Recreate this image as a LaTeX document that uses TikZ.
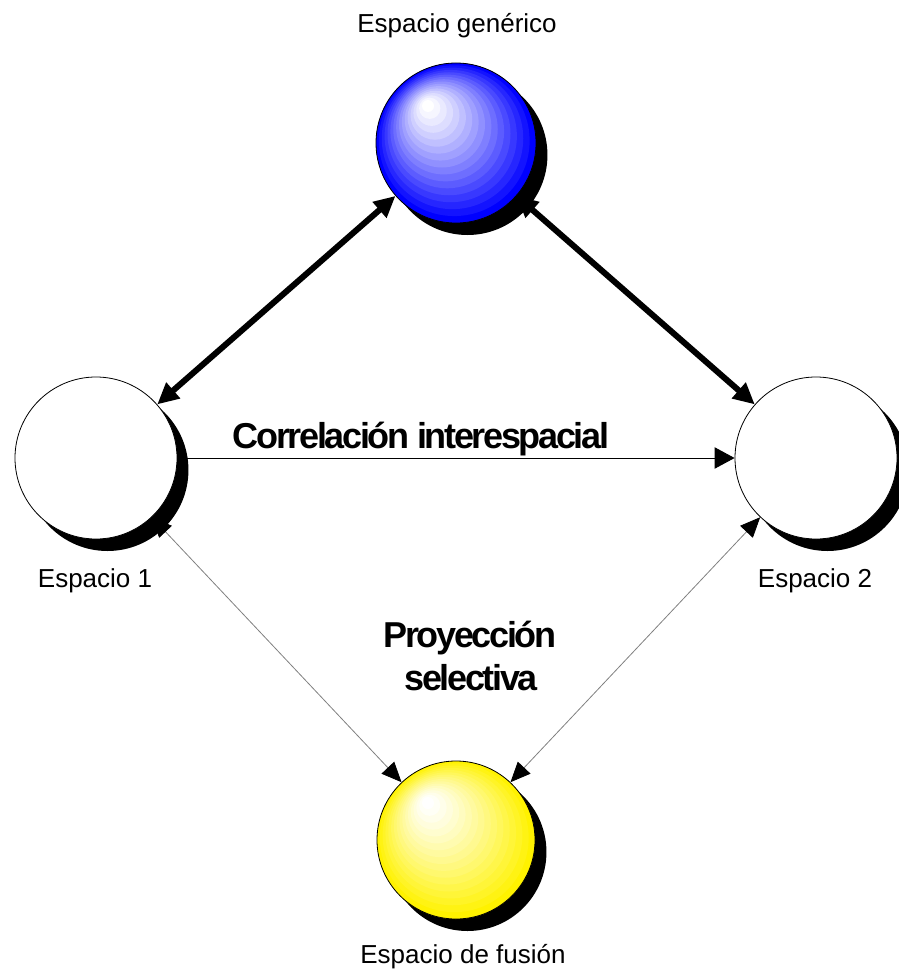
\documentclass[tikz,border=0pt]{standalone}
\usepackage{fontspec}
\setmainfont{Liberation Sans}
\newfontfamily\tightbold{Liberation Sans Bold}[LetterSpace=-6.5]
\usetikzlibrary{arrows.meta,shadows}

% connectors sit below the spheres and their shadows
\pgfdeclarelayer{links}
\pgfsetlayers{links,main}

\begin{document}
\begin{tikzpicture}[x=0.75pt,y=-0.75pt,
  sphere/.style={circle, draw=black, line width=0.6pt, inner sep=0pt,
    minimum size=120pt,
    drop shadow={shadow xshift=8.6pt, shadow yshift=-9pt, fill=black,
      draw=none, opacity=1}},
  % banded radial fill: colour, radius in px; highlight up and to the left
  ringfill/.style 2 args={fill=#1, path picture={
    \foreach \k in {0,...,16}{
      \pgfmathsetmacro\tk{\k/16}
      \pgfmathsetmacro\pc{100*(1-\tk)^1.2}
      \fill[#1!\pc!white, shift={(path picture bounding box.center)}]
        (-28*\tk,-37*\tk) circle[radius={#2-(#2-6)*\tk}];
    }}},
  lbl/.style={font=\fontsize{19.5}{22}\selectfont, inner sep=0pt, anchor=base},
  boldlbl/.style={font=\tightbold\fontsize{27}{30}\selectfont, inner sep=0pt,
    anchor=base},
  thicklink/.style={line width=4.5pt,
    {Triangle[length=16pt,width=15pt]}-{Triangle[length=16pt,width=15pt]}},
  thinlink/.style={line width=0.7pt, -{Triangle[length=15pt,width=16pt]}},
  graylink/.style={draw=gray, line width=0.6pt,
    {Triangle[length=15pt,width=13pt,color=black]}-{Triangle[length=15pt,width=13pt,color=black]}}
]
\useasboundingbox (0,0) rectangle (899,974);

% spaces
\node[sphere, ringfill={blue}{80}] (gen) at (456,143) {};
\node[sphere, fill=white, minimum size=121.5pt] (e1) at (96,458) {};
\node[sphere, fill=white, minimum size=121.5pt] (e2) at (816,458) {};
\node[sphere, ringfill={yellow}{79}, minimum size=118.5pt] (fus) at (456,840) {};

% names of the spaces
\node[lbl] (tgen) at (457,33) {Espacio genérico};
\node[lbl] (te1) at (95,587) {Espacio 1};
\node[lbl] (te2) at (815,587) {Espacio 2};
\node[lbl] (tfus) at (463,963) {Espacio de fusión};

% relation labels
\node[boldlbl] (corr) at (421,448) {Correlación interespacial};
\node[boldlbl] (proy1) at (470,647) {Proyección};
\node[boldlbl] (proy2) at (471,690) {selectiva};

% connectors
\begin{pgfonlayer}{links}
  \draw[thicklink] (e1) -- (gen);
  \draw[thicklink] (gen) -- (e2);
  \draw[thinlink] (e1) -- (e2);
  \draw[graylink] (e1) -- (fus);
  \draw[graylink] (e2) -- (fus);
\end{pgfonlayer}
\end{tikzpicture}
\end{document}
